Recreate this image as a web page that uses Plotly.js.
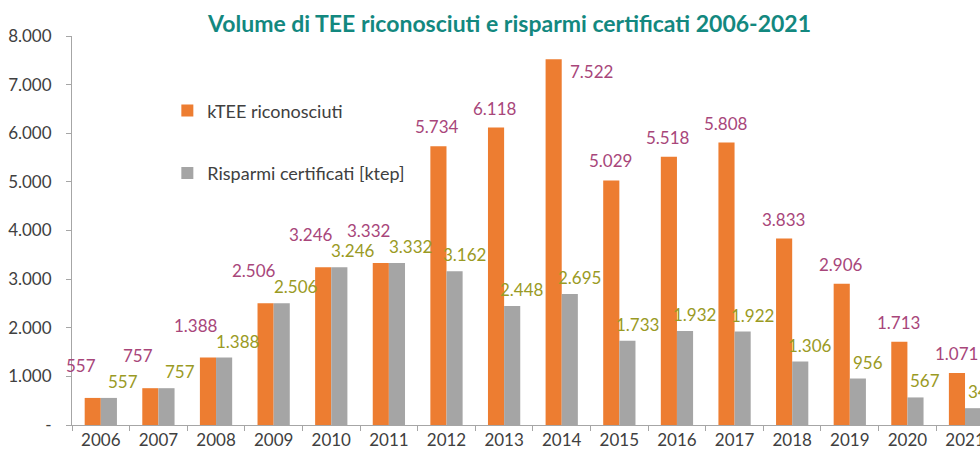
<!DOCTYPE html>
<html>
<head>
<meta charset="utf-8">
<script src="https://cdn.plot.ly/plotly-3.0.1.min.js"></script>
<style>html,body{margin:0;padding:0;background:#fff;}#chart{width:980px;height:457px;}</style>
</head>
<body>
<div id="chart"></div>
<script>
const years = ['2006','2007','2008','2009','2010','2011','2012','2013','2014','2015','2016','2017','2018','2019','2020','2021'];
const kteeRiconosciuti = [557, 757, 1388, 2506, 3246, 3332, 5734, 6118, 7522, 5029, 5518, 5808, 3833, 2906, 1713, 1071];
const risparmiCertificati = [557, 757, 1388, 2506, 3246, 3332, 3162, 2448, 2695, 1733, 1932, 1922, 1306, 956, 567, 346];
const yTickVals = [0, 1000, 2000, 3000, 4000, 5000, 6000, 7000, 8000];
const yTickText = ['-', '1.000', '2.000', '3.000', '4.000', '5.000', '6.000', '7.000', '8.000'];

const fmt = v => String(Math.round(v)).replace(/\B(?=(\d{3})+(?!\d))/g, '.');
const FONT = 'Lato, "Open Sans", sans-serif';
const Y_MAX = 8000;

const traces = [
  {type: 'bar', name: 'kTEE riconosciuti', x: years, y: kteeRiconosciuti,
   marker: {color: '#ED7D31'}, legendgroup: 'a', hoverinfo: 'x+y'},
  {type: 'bar', name: 'Risparmi certificati [ktep]', x: years, y: risparmiCertificati,
   marker: {color: '#A5A5A5'}, legendgroup: 'b', hoverinfo: 'x+y'}
];

const annotations = [];
years.forEach((yr, i) => {
  const a = kteeRiconosciuti[i], b = risparmiCertificati[i];
  const same = Math.abs(a - b) < 400;
  const nearTop = a > Y_MAX * 0.9;
  const oLabel = {x: i, y: a, xref: 'x', yref: 'y', text: fmt(a), showarrow: false,
    font: {family: FONT, size: 17, color: '#A8467A'}};
  if (nearTop) {
    Object.assign(oLabel, {xanchor: 'left', yanchor: 'top', xshift: 6, yshift: 0});
  } else {
    Object.assign(oLabel, {xanchor: 'center', yanchor: 'bottom', xshift: same ? -20 : -9, yshift: same ? 20 : 7});
  }
  annotations.push(oLabel);
  annotations.push({x: i, y: b, xref: 'x', yref: 'y', text: fmt(b), showarrow: false,
    xanchor: 'center', yanchor: 'bottom', xshift: same ? 22 : 18, yshift: 4,
    font: {family: FONT, size: 17, color: '#9A9A24'}});
});

const layout = {
  width: 980, height: 457,
  margin: {l: 72, r: 0, t: 36, b: 32, pad: 0},
  paper_bgcolor: '#fff', plot_bgcolor: '#fff',
  font: {family: FONT, size: 17, color: '#404040'},
  title: {text: 'Volume di TEE riconosciuti e risparmi certificati 2006-2021',
    x: 0.52, xref: 'container', xanchor: 'center', y: 0.948, yref: 'container', yanchor: 'middle',
    font: {family: FONT, size: 23, color: '#13887F', weight: 'bold'}},
  barmode: 'group', bargap: 0.44, bargroupgap: 0,
  xaxis: {type: 'category', range: [-0.5, 15.26], showline: true, linecolor: '#A6A6A6', linewidth: 1,
    ticks: 'outside', tickson: 'boundaries', ticklen: 5, tickcolor: '#A6A6A6', showgrid: false,
    tickfont: {family: FONT, size: 17, color: '#404040'}, fixedrange: true},
  yaxis: {range: [0, Y_MAX], tickvals: yTickVals, ticktext: yTickText, showline: true, linecolor: '#A6A6A6',
    ticks: 'outside', ticklen: 5, tickcolor: '#A6A6A6', showgrid: false, zeroline: false,
    ticklabelstandoff: 11,
    tickfont: {family: FONT, size: 17, color: '#404040'}, fixedrange: true},
  showlegend: true,
  legend: {x: 0.105, y: 0.855, xanchor: 'left', yanchor: 'top', bgcolor: 'rgba(0,0,0,0)',
    font: {family: FONT, size: 18, color: '#404040'}, tracegroupgap: 36, itemwidth: 30},
  annotations: annotations
};

Plotly.newPlot('chart', traces, layout, {displayModeBar: false, staticPlot: true});
</script>
</body>
</html>
